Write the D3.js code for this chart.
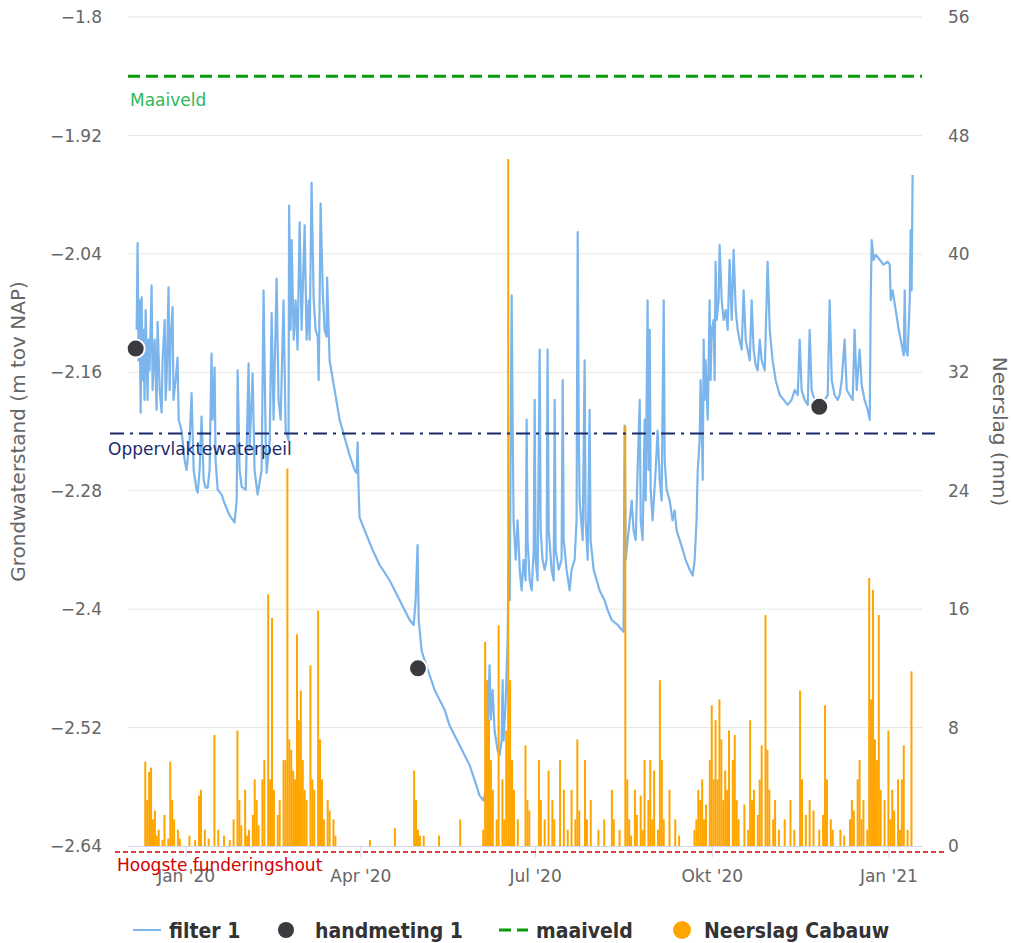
<!DOCTYPE html>
<html>
<head>
<meta charset="utf-8">
<script src="https://cdn.jsdelivr.net/npm/d3@7"></script>
<style>
body { margin: 0; background: #fff; }
text { font-family: "DejaVu Sans", sans-serif; }
</style>
</head>
<body>
<div id="chart"></div>
<script>
// day offsets are counted from 1 Jan 2020
var base = Date.UTC(2020, 0, 1);
function dayToDate(d) { return new Date(base + d * 86400000); }

// filter 1: [day, m tov NAP]
var filter1 = [
	[-25.5,-2.117],[-25.0,-2.029],[-24.5,-2.148],[-24.0,-2.087],[-23.4,-2.201],[-22.9,-2.084],[-22.4,-2.168],
	[-21.9,-2.117],[-21.4,-2.188],[-20.8,-2.097],[-19.8,-2.188],[-19.3,-2.127],[-18.8,-2.158],[-17.7,-2.072],
	[-17.2,-2.178],[-16.1,-2.127],[-15.1,-2.198],[-14.6,-2.109],[-13.5,-2.178],[-12.5,-2.201],[-12.0,-2.148],
	[-10.9,-2.107],[-10.4,-2.188],[-9.9,-2.168],[-8.9,-2.074],[-8.3,-2.178],[-7.8,-2.127],[-6.8,-2.094],
	[-6.3,-2.188],[-5.2,-2.168],[-4.2,-2.145],[-3.6,-2.208],[-2.1,-2.219],[-0.5,-2.249],[0.5,-2.259],
	[2.1,-2.229],[3.1,-2.181],[4.2,-2.259],[5.7,-2.279],[6.3,-2.282],[7.3,-2.259],[8.3,-2.205],[9.4,-2.269],
	[10.4,-2.277],[11.5,-2.277],[12.5,-2.259],[13.5,-2.141],[14.1,-2.208],[15.1,-2.155],[15.6,-2.249],
	[16.7,-2.279],[18.8,-2.284],[20.3,-2.293],[22.9,-2.305],[25.5,-2.312],[26.6,-2.290],[27.1,-2.158],
	[28.1,-2.259],[29.2,-2.276],[31.3,-2.279],[32.8,-2.151],[33.3,-2.239],[34.9,-2.161],[35.9,-2.259],
	[37.5,-2.284],[39.6,-2.259],[40.6,-2.077],[41.7,-2.229],[42.2,-2.262],[43.8,-2.229],[44.8,-2.100],
	[45.8,-2.208],[47.4,-2.065],[48.4,-2.188],[49.5,-2.208],[51.0,-2.087],[52.1,-2.219],[53.6,-2.229],
	[53.9,-1.991],[54.7,-2.117],[55.2,-2.026],[56.3,-2.127],[57.3,-2.087],[58.3,-2.137],[59.4,-2.008],
	[60.4,-2.117],[62.0,-2.011],[63.0,-2.127],[64.1,-2.087],[64.6,-2.127],[65.6,-1.968],[66.7,-2.087],
	[67.7,-2.117],[68.8,-2.124],[69.3,-2.168],[69.8,-2.087],[70.3,-1.989],[71.4,-2.077],[72.4,-2.117],
	[73.4,-2.124],[73.7,-2.064],[75.0,-2.148],[77.6,-2.178],[80.2,-2.208],[81.8,-2.219],[85.4,-2.244],
	[88.0,-2.259],[89.1,-2.262],[89.6,-2.231],[90.1,-2.279],[90.6,-2.307],[93.2,-2.320],[97.4,-2.340],
	[101.0,-2.355],[106.3,-2.371],[111.5,-2.391],[114.1,-2.401],[116.7,-2.411],[118.8,-2.416],[119.8,-2.391],
	[120.8,-2.335],[121.4,-2.411],[122.9,-2.442],[124.5,-2.452],[127.1,-2.467],[129.7,-2.482],[132.3,-2.492],
	[134.9,-2.502],[137.5,-2.518],[140.1,-2.528],[142.7,-2.538],[145.3,-2.548],[147.9,-2.558],[150.5,-2.573],
	[153.1,-2.589],[155.2,-2.594],[156.3,-2.583],[156.8,-2.553],[157.8,-2.492],[158.3,-2.457],[158.9,-2.512],
	[159.9,-2.482],[160.9,-2.523],[162.5,-2.543],[163.5,-2.548],[164.6,-2.533],[165.1,-2.472],[165.6,-2.533],
	[166.7,-2.492],[167.7,-2.431],[168.2,-2.350],[168.8,-2.391],[169.3,-2.229],[169.8,-2.082],[170.3,-2.208],
	[170.8,-2.310],[171.9,-2.350],[172.9,-2.310],[174.0,-2.360],[175.0,-2.381],[176.0,-2.350],[177.1,-2.371],
	[177.6,-2.208],[178.1,-2.330],[179.2,-2.371],[180.2,-2.381],[181.3,-2.340],[181.8,-2.188],[182.3,-2.350],
	[183.3,-2.371],[184.4,-2.137],[184.9,-2.320],[185.9,-2.350],[187.0,-2.360],[188.0,-2.350],[188.5,-2.137],
	[189.1,-2.320],[190.6,-2.360],[191.7,-2.371],[192.2,-2.188],[192.7,-2.340],[194.3,-2.360],[195.8,-2.350],
	[196.4,-2.168],[196.9,-2.330],[198.4,-2.360],[200.0,-2.381],[201.0,-2.360],[202.6,-2.350],[203.6,-2.310],
	[204.2,-2.018],[204.7,-2.208],[205.2,-2.290],[206.8,-2.330],[207.8,-2.148],[208.3,-2.310],[209.4,-2.350],
	[210.4,-2.198],[210.9,-2.330],[212.5,-2.360],[214.1,-2.371],[215.6,-2.381],[218.2,-2.391],[219.8,-2.401],
	[221.9,-2.411],[225.0,-2.416],[228.1,-2.423],[228.6,-2.214],[229.2,-2.350],[230.2,-2.330],[231.3,-2.310],
	[232.3,-2.290],[233.3,-2.320],[234.4,-2.330],[235.4,-2.259],[236.5,-2.188],[237.0,-2.310],[238.0,-2.330],
	[239.1,-2.208],[239.6,-2.290],[240.6,-2.087],[241.1,-2.259],[241.7,-2.117],[242.2,-2.279],[243.2,-2.310],
	[244.8,-2.259],[245.8,-2.219],[246.9,-2.269],[247.9,-2.290],[249.0,-2.087],[249.5,-2.249],[250.5,-2.279],
	[252.1,-2.290],[253.6,-2.310],[254.7,-2.300],[255.7,-2.320],[257.3,-2.330],[258.9,-2.340],[260.4,-2.350],
	[262.5,-2.360],[264.1,-2.366],[265.1,-2.350],[266.1,-2.310],[266.7,-2.259],[267.7,-2.229],[268.2,-2.168],
	[268.8,-2.208],[269.3,-2.269],[269.8,-2.127],[270.3,-2.188],[270.8,-2.148],[271.9,-2.208],[272.9,-2.087],
	[273.4,-2.168],[274.0,-2.117],[275.0,-2.107],[275.5,-2.168],[276.0,-2.048],[276.6,-2.107],[277.6,-2.087],
	[278.1,-2.031],[279.2,-2.087],[280.2,-2.107],[281.3,-2.097],[282.3,-2.117],[283.3,-2.046],[284.4,-2.107],
	[285.4,-2.036],[286.5,-2.097],[287.5,-2.117],[288.5,-2.127],[289.6,-2.137],[290.6,-2.077],[291.7,-2.127],
	[292.7,-2.137],[293.8,-2.148],[294.8,-2.087],[295.8,-2.137],[296.9,-2.153],[297.9,-2.158],[299.0,-2.127],
	[300.0,-2.148],[301.6,-2.158],[303.1,-2.048],[304.2,-2.117],[305.7,-2.148],[307.3,-2.168],[309.4,-2.183],
	[311.5,-2.188],[313.5,-2.193],[315.6,-2.188],[317.2,-2.178],[318.8,-2.183],[319.8,-2.127],[320.8,-2.178],
	[322.4,-2.188],[324.0,-2.193],[325.0,-2.117],[326.0,-2.178],[327.6,-2.188],[329.2,-2.193],[331.3,-2.196],
	[332.8,-2.188],[334.4,-2.183],[335.4,-2.087],[336.5,-2.168],[338.0,-2.183],[339.6,-2.188],[340.6,-2.183],
	[341.7,-2.168],[343.2,-2.127],[344.3,-2.178],[345.8,-2.183],[347.4,-2.188],[348.4,-2.117],[349.5,-2.178],
	[351.0,-2.137],[352.1,-2.173],[353.6,-2.188],[355.2,-2.198],[356.3,-2.208],[356.8,-2.087],[357.3,-2.026],
	[358.3,-2.046],[359.4,-2.041],[361.5,-2.046],[363.5,-2.051],[365.6,-2.048],[366.7,-2.051],[367.2,-2.087],
	[368.2,-2.077],[369.8,-2.097],[371.4,-2.117],[372.9,-2.132],[374.0,-2.143],[374.5,-2.077],[375.0,-2.137],
	[376.0,-2.143],[377.1,-2.087],[377.6,-2.016],[378.1,-2.077],[378.6,-1.960]
];

// handmeting 1: [day, m tov NAP]
var handmeting1 = [[-26, -2.136], [121, -2.460], [330, -2.195]];

// Neerslag Cabauw: [day, mm]
var neerslag = [
	[-21,5.7],[-20,3.1],[-19,5.0],[-18,5.3],[-17,1.8],[-16,2.4],[-15,0.7],[-14,1.1],[-12,0.4],[-11,2.1],
	[-9,0.5],[-8,5.7],[-7,3.1],[-6,1.8],[-4,1.1],[-3,0.5],
	[2,0.7],[5,0.4],[7,3.4],[8,3.8],[10,1.1],[12,0.5],[15,7.5],[17,1.1],[20,0.7],[23,0.4],[25,1.8],
	[27,7.8],[28,3.1],[29,1.4],[31,3.8],
	[32,0.7],[33,1.1],[35,2.1],[36,4.5],[37,3.1],[38,1.4],[40,4.5],[41,5.8],[43,17.0],[44,4.5],[45,15.4],
	[46,3.8],[48,2.1],[49,3.1],[51,5.8],[52,5.8],[53,25.5],[54,7.2],[55,6.5],[56,5.1],[57,4.5],[58,14.3],
	[59,8.5],[60,10.5],[61,5.8],[62,3.8],
	[63,3.1],[65,12.2],[66,4.5],[67,3.8],[69,15.9],[70,7.2],[71,4.5],[72,1.8],[74,3.1],[75,2.4],[77,1.8],[78,0.7],
	[96,0.4],[109,1.2],[119,5.1],[120,3.1],[121,1.1],[122,0.7],[124,0.7],
	[132,0.7],[143,1.8],
	[155,1.1],[156,13.8],[157,11.2],[158,8.5],[159,5.8],[160,3.8],[162,1.8],[163,14.9],[165,4.5],[166,1.8],
	[167,7.8],[168,46.4],[169,11.2],[170,5.8],[171,3.8],[173,1.8],[177,6.8],[178,3.1],[179,2.4],
	[184,5.8],[185,3.1],[187,1.8],[189,5.1],[191,3.1],[192,1.8],[195,5.8],[197,3.8],[199,1.1],[201,3.8],
	[203,1.8],[204,7.2],[205,2.4],[208,5.8],[209,1.8],[211,3.1],
	[215,1.1],[218,1.8],[222,3.8],[223,1.8],[226,1.1],[229,28.4],[230,4.5],[231,1.8],[232,0.7],[234,3.8],
	[235,2.1],[237,3.4],[238,1.1],[239,5.8],[241,3.1],[242,5.8],
	[243,1.8],[244,5.1],[246,1.1],[247,11.2],[248,5.8],[249,1.8],[252,3.8],[255,1.8],[257,0.7],[265,1.1],
	[266,1.8],[267,3.8],[268,3.1],[269,4.5],[270,1.8],[271,2.8],
	[273,5.8],[274,9.5],[275,4.5],[276,8.5],[277,4.5],[278,9.9],[279,7.2],[280,3.1],[281,5.1],[282,3.8],
	[283,7.8],[285,5.8],[286,7.5],[287,3.1],[288,1.8],[291,2.8],[293,1.1],[294,8.5],[295,3.1],[296,3.8],
	[298,2.1],[299,4.5],[300,6.8],[302,15.6],[303,6.5],[304,3.8],
	[306,1.8],[307,3.1],[309,1.1],[312,1.8],[315,3.1],[317,1.1],[320,10.5],[321,4.5],[323,2.1],[325,3.1],
	[327,2.4],[330,1.1],[332,2.1],[333,9.5],[334,4.5],[336,1.8],[337,1.1],
	[341,1.1],[343,0.7],[346,1.8],[347,3.1],[348,2.4],[350,4.5],[351,5.8],[352,1.8],[353,3.1],[355,1.1],
	[356,18.1],[357,9.9],[358,17.3],[359,7.2],[360,5.8],[361,15.6],[362,3.8],[364,3.1],[366,7.8],
	[367,1.8],[368,3.8],[369,2.4],[371,4.5],[372,1.1],[373,4.5],[374,6.8],[376,1.1],[378,11.8]
];

// reference levels (m tov NAP)
var maaiveld = -1.86;
var oppervlaktewaterpeil = -2.222;
var funderingshout = -2.646;

var leftTicks = [-1.8, -1.92, -2.04, -2.16, -2.28, -2.4, -2.52, -2.64];
var rightTicks = [0, 8, 16, 24, 32, 40, 48, 56];
var monthTicks = ["2020-01-01", "2020-04-01", "2020-07-01", "2020-10-01", "2021-01-01"];
var monthLabels = ["Jan '20", "Apr '20", "Jul '20", "Okt '20", "Jan '21"];

var W = 1013, H = 943;
var plot = {left: 128, right: 922, top: 17, bottom: 846};

var svg = d3.select("#chart").append("svg")
	.attr("width", W).attr("height", H);

var x = d3.scaleUtc()
	.domain([dayToDate(-30), dayToDate(383.5)])
	.range([plot.left, plot.right]);
var yL = d3.scaleLinear().domain([-2.64, -1.8]).range([plot.bottom, plot.top]);
var yR = d3.scaleLinear().domain([0, 56]).range([plot.bottom, plot.top]);

// grid
svg.append("g").selectAll("line")
	.data(leftTicks.slice(0, -1))
	.enter().append("line")
	.attr("x1", plot.left).attr("x2", plot.right)
	.attr("y1", function(d){ return yL(d); })
	.attr("y2", function(d){ return yL(d); })
	.attr("stroke", "#e6e6e6").attr("stroke-width", 1);

// left axis labels
svg.append("g").selectAll("text")
	.data(leftTicks)
	.enter().append("text")
	.attr("x", 102)
	.attr("y", function(d){ return yL(d); })
	.attr("dy", "0.36em")
	.attr("text-anchor", "end")
	.attr("fill", "#666").style("font-size", "17px")
	.text(function(d){ return d3.format(".3~f")(d).replace("-", "\u2212"); });

// right axis labels
svg.append("g").selectAll("text")
	.data(rightTicks)
	.enter().append("text")
	.attr("x", 948)
	.attr("y", function(d){ return yR(d); })
	.attr("dy", "0.36em")
	.attr("fill", "#666").style("font-size", "17px")
	.text(function(d){ return d; });

// x axis
var xAxis = d3.axisBottom(x)
	.tickValues(monthTicks.map(function(s){ return new Date(s + "T00:00:00Z"); }))
	.tickFormat(function(d, i){ return monthLabels[i]; })
	.tickSize(11).tickSizeOuter(0);
var xg = svg.append("g")
	.attr("transform", "translate(0," + plot.bottom + ")")
	.call(xAxis);
xg.select(".domain").attr("stroke", "#ccd6eb");
xg.selectAll(".tick line").attr("stroke", "#ccd6eb");
xg.selectAll(".tick text")
	.attr("fill", "#666").attr("dy", "1.3em")
	.style("font-size", "17px").style("font-family", "DejaVu Sans");

// axis titles
svg.append("text")
	.attr("transform", "translate(25," + ((plot.top + plot.bottom) / 2) + ") rotate(-90)")
	.attr("text-anchor", "middle").attr("fill", "#666").style("font-size", "20px")
	.text("Grondwaterstand (m tov NAP)");
svg.append("text")
	.attr("transform", "translate(993," + ((plot.top + plot.bottom) / 2) + ") rotate(90)")
	.attr("text-anchor", "middle").attr("fill", "#666").style("font-size", "20px")
	.text("Neerslag (mm)");

// filter 1 line
var line = d3.line()
	.x(function(d){ return x(dayToDate(d[0])); })
	.y(function(d){ return yL(d[1]); });
svg.append("path")
	.datum(filter1)
	.attr("d", line)
	.attr("fill", "none")
	.attr("stroke", "#7cb5ec")
	.attr("stroke-width", 2.2)
	.attr("stroke-linejoin", "round");

// neerslag columns
svg.append("g").selectAll("rect")
	.data(neerslag)
	.enter().append("rect")
	.attr("x", function(d){ return x(dayToDate(d[0])) - 1; })
	.attr("width", 2)
	.attr("y", function(d){ return yR(d[1]); })
	.attr("height", function(d){ return yR(0) - yR(d[1]); })
	.attr("fill", "#ffa500");

// reference lines
svg.append("line")
	.attr("x1", plot.left).attr("x2", plot.right)
	.attr("y1", yL(maaiveld)).attr("y2", yL(maaiveld))
	.attr("stroke", "#0b9a0b").attr("stroke-width", 3)
	.attr("stroke-dasharray", "12,6");
svg.append("text")
	.attr("x", 130).attr("y", yL(maaiveld) + 30)
	.attr("fill", "#2db85a").style("font-size", "17px")
	.text("Maaiveld");

svg.append("line")
	.attr("x1", 110).attr("x2", 935)
	.attr("y1", yL(oppervlaktewaterpeil)).attr("y2", yL(oppervlaktewaterpeil))
	.attr("stroke", "#1b2a6b").attr("stroke-width", 2)
	.attr("stroke-dasharray", "14,6,3,6");
svg.append("text")
	.attr("x", 108).attr("y", yL(oppervlaktewaterpeil) + 22)
	.attr("fill", "#1b2a6b").style("font-size", "17px")
	.text("Oppervlaktewaterpeil");

svg.append("line")
	.attr("x1", 115).attr("x2", 945)
	.attr("y1", yL(funderingshout)).attr("y2", yL(funderingshout))
	.attr("stroke", "#d40000").attr("stroke-width", 1.5)
	.attr("stroke-dasharray", "5,3");
svg.append("text")
	.attr("x", 117).attr("y", yL(funderingshout) + 19)
	.attr("fill", "#d40000").style("font-size", "17px")
	.text("Hoogste funderingshout");

// handmeting points
svg.append("g").selectAll("circle")
	.data(handmeting1)
	.enter().append("circle")
	.attr("cx", function(d){ return x(dayToDate(d[0])); })
	.attr("cy", function(d){ return yL(d[1]); })
	.attr("r", 9)
	.attr("fill", "#3a3a3f")
	.attr("stroke", "#fff").attr("stroke-width", 2);

// legend
var lg = svg.append("g").attr("transform", "translate(0,930)");
lg.append("line").attr("x1", 133).attr("x2", 161).attr("y1", 0).attr("y2", 0)
	.attr("stroke", "#7cb5ec").attr("stroke-width", 2);
lg.append("circle").attr("cx", 286).attr("cy", 0).attr("r", 8).attr("fill", "#3a3a3f");
lg.append("line").attr("x1", 499).attr("x2", 528).attr("y1", 0).attr("y2", 0)
	.attr("stroke", "#0b9a0b").attr("stroke-width", 3).attr("stroke-dasharray", "12,6");
lg.append("circle").attr("cx", 682).attr("cy", 0).attr("r", 9).attr("fill", "#ffa500");
var legendItems = [["filter 1", 169], ["handmeting 1", 315], ["maaiveld", 536], ["Neerslag Cabauw", 704]];
lg.selectAll("text.lbl")
	.data(legendItems)
	.enter().append("text")
	.attr("class", "lbl")
	.attr("x", function(d){ return d[1]; })
	.attr("y", 0).attr("dy", "0.36em")
	.attr("fill", "#333").style("font-size", "21px").style("font-weight", "bold")
	.style("font-family", "DejaVu Sans Condensed")
	.text(function(d){ return d[0]; });
</script>
</body>
</html>
